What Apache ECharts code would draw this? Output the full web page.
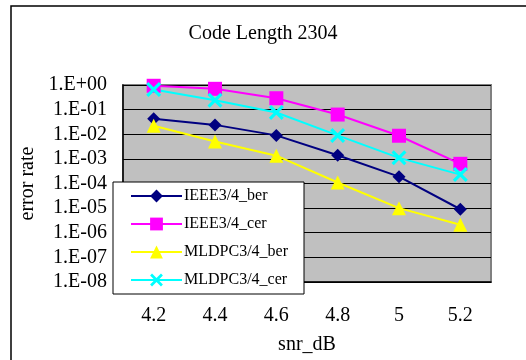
<!DOCTYPE html>
<html>
<head>
<meta charset="utf-8">
<script src="https://cdn.jsdelivr.net/npm/echarts@6/dist/echarts.min.js"></script>
<style>
  html, body { margin: 0; padding: 0; background: #fff; }
  #chart { width: 526px; height: 360px; }
</style>
</head>
<body>
<div id="chart"></div>
<script>
var snrLabels = ['4.2', '4.4', '4.6', '4.8', '5', '5.2'];
var ieeeBer = [0.043, 0.024, 0.009, 0.0014, 0.00019, 0.000009];
var ieeeCer = [0.93, 0.7, 0.29, 0.063, 0.0087, 0.00063];
var mldpcBer = [0.022, 0.0051, 0.00135, 0.00011, 0.00001, 0.0000021];
var mldpcCer = [0.65, 0.24, 0.076, 0.009, 0.0011, 0.00023];

var serif = "'Liberation Serif', 'Times New Roman', serif";
var crossPath = 'path://M0,1.5 L1.5,0 L5,3.5 L8.5,0 L10,1.5 L6.5,5 L10,8.5 L8.5,10 L5,6.5 L1.5,10 L0,8.5 L3.5,5 Z';

function mkSeries(name, data, color, symbol, size) {
    return {
        name: name,
        type: 'line',
        data: data,
        symbol: symbol,
        symbolSize: size,
        showAllSymbol: true,
        lineStyle: { color: color, width: 2 },
        itemStyle: { color: color },
        emphasis: { disabled: true }
    };
}

var myChart = echarts.init(document.getElementById('chart'));
var option = {
    animation: false,
    title: {
        text: 'Code Length 2304',
        left: 'center',
        top: 19,
        textStyle: { fontFamily: serif, fontSize: 20, fontWeight: 'normal', color: '#000' }
    },
    graphic: [{
        type: 'rect',
        shape: { x: 11, y: 6, width: 600, height: 400 },
        style: { fill: 'none', stroke: '#000', lineWidth: 1.5 },
        z: -10
    }],
    grid: {
        left: 123, top: 85, right: 35, bottom: 73,
        show: true,
        backgroundColor: '#C0C0C0',
        borderColor: '#808080',
        borderWidth: 2
    },
    legend: {
        orient: 'vertical',
        left: 113,
        top: 182,
        padding: [6, 16, 6, 17],
        itemWidth: 51,
        itemHeight: 16,
        itemGap: 12,
        backgroundColor: '#fff',
        borderColor: '#000',
        borderWidth: 1,
        borderRadius: 0,
        textStyle: { fontFamily: serif, fontSize: 16, color: '#000', padding: [0, 0, 0, -3] },
        data: ['IEEE3/4_ber', 'IEEE3/4_cer', 'MLDPC3/4_ber', 'MLDPC3/4_cer']
    },
    xAxis: {
        type: 'category',
        data: snrLabels,
        boundaryGap: true,
        name: 'snr_dB',
        nameLocation: 'middle',
        nameGap: 53,
        nameTextStyle: { fontFamily: serif, fontSize: 20, color: '#000' },
        axisLine: { lineStyle: { color: '#000', width: 1.5 } },
        axisTick: { inside: true, length: 5, lineStyle: { color: '#000' } },
        axisLabel: { fontFamily: serif, fontSize: 20, color: '#000', margin: 24 },
        splitLine: { show: false }
    },
    yAxis: {
        type: 'log',
        logBase: 10,
        min: 1e-8,
        max: 1,
        splitNumber: 8,
        name: 'error rate',
        nameLocation: 'middle',
        nameGap: 81,
        nameTextStyle: { fontFamily: serif, fontSize: 20, color: '#000' },
        axisLine: { show: true, lineStyle: { color: '#000', width: 1.5 } },
        axisTick: { show: false },
        axisLabel: {
            fontFamily: serif, fontSize: 20, color: '#000', margin: 16,
            formatter: function (v) {
                var e = Math.round(Math.log(v) / Math.LN10);
                var s = e < 0 ? '-' : '+';
                var a = Math.abs(e);
                return '1.E' + s + (a < 10 ? '0' + a : a);
            }
        },
        splitLine: { show: true, lineStyle: { color: '#000', width: 1 } }
    },
    series: [
        mkSeries('IEEE3/4_ber', ieeeBer, '#000080', 'diamond', 13),
        mkSeries('IEEE3/4_cer', ieeeCer, '#FF00FF', 'rect', 14),
        mkSeries('MLDPC3/4_ber', mldpcBer, '#FFFF00', 'triangle', 14),
        mkSeries('MLDPC3/4_cer', mldpcCer, '#00FFFF', crossPath, 15)
    ]
};
myChart.setOption(option);
</script>
</body>
</html>
